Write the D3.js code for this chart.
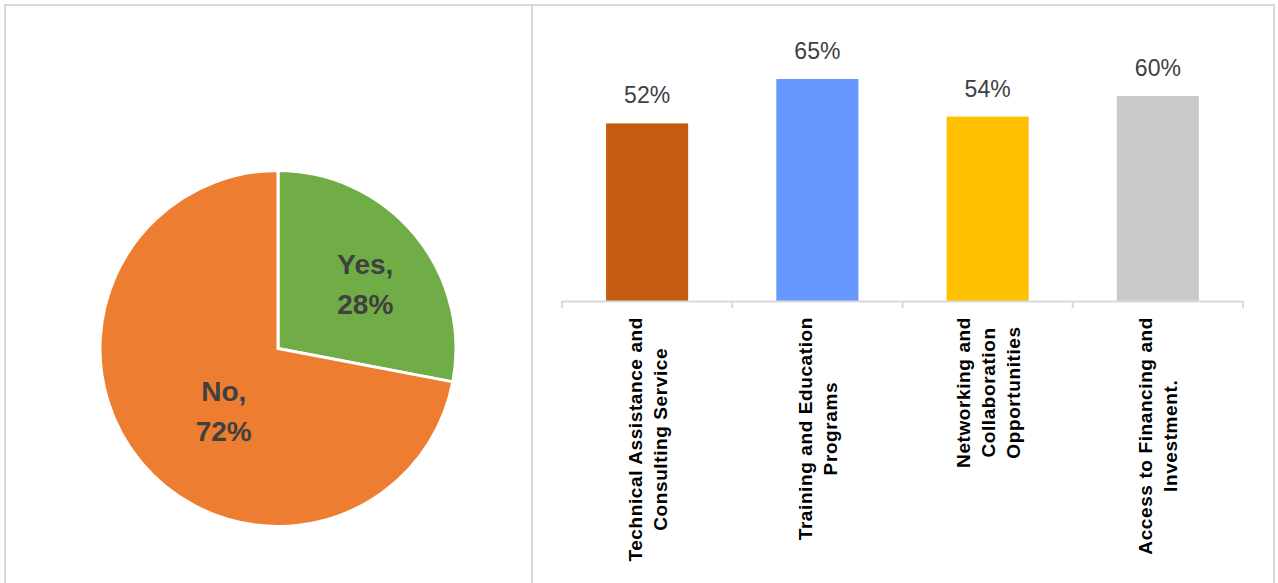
<!DOCTYPE html>
<html>
<head>
<meta charset="utf-8">
<script src="https://cdn.jsdelivr.net/npm/d3@7"></script>
<style>
  body { margin: 0; background: #fff; }
  svg { display: block; font-family: "Liberation Sans", Arial, sans-serif; }
</style>
</head>
<body>
<div id="chart"></div>
<script>
// pie data
const pieLabels = ['Yes', 'No'];
const pieValues = [28, 72];
const pieColors = ['#70AD47', '#ED7D31'];

// bar data
const barCategories = [
  ['Technical Assistance and', 'Consulting Service'],
  ['Training and Education', 'Programs'],
  ['Networking and', 'Collaboration', 'Opportunities'],
  ['Access to Financing and', 'Investment.']
];
const barValues = [52, 65, 54, 60];
const barColors = ['#C55A11', '#6699FF', '#FFC000', '#C9C9C9'];

const W = 1278, H = 583;
const textColor = '#404040';
const frameColor = '#D9D9D9';

const svg = d3.select('#chart')
  .append('svg')
  .attr('width', W)
  .attr('height', H);

// panel frames
svg.append('rect')
  .attr('x', 5).attr('y', 5)
  .attr('width', 527).attr('height', 600)
  .attr('fill', 'none').attr('stroke', frameColor).attr('stroke-width', 2);
svg.append('rect')
  .attr('x', 532).attr('y', 5)
  .attr('width', 742).attr('height', 600)
  .attr('fill', 'none').attr('stroke', frameColor).attr('stroke-width', 2);

// ---- pie ----
const R = 178;
const pieG = svg.append('g')
  .attr('transform', 'translate(278,348.5)');

const pie = d3.pie()
  .sort(null)
  .value(d => d);

const arc = d3.arc()
  .innerRadius(0)
  .outerRadius(R);

const slices = pie(pieValues);

pieG.selectAll('path')
  .data(slices)
  .enter()
  .append('path')
  .attr('d', arc)
  .attr('fill', (d, i) => pieColors[i])
  .attr('stroke', '#fff')
  .attr('stroke-width', 3)
  .attr('stroke-linejoin', 'miter');

// label spots, like excel's best fit
const labelArc = d3.arc().innerRadius(0).outerRadius(R * 1.2);
const labelNudge = [[5, 4], [28, -6]];

slices.forEach((s, i) => {
  const c = labelArc.centroid(s);
  const x = c[0] + labelNudge[i][0];
  const y = c[1] + labelNudge[i][1];
  const t = pieG.append('text')
    .attr('text-anchor', 'middle')
    .attr('fill', textColor)
    .style('font-size', '28px')
    .style('font-weight', 'bold');
  t.append('tspan').attr('x', x).attr('y', y - 10).text(pieLabels[i] + ',');
  t.append('tspan').attr('x', x).attr('y', y + 30).text(pieValues[i] + '%');
});

// ---- bars ----
const x = d3.scaleBand()
  .domain(d3.range(barValues.length))
  .range([562, 1243])
  .paddingInner(0.518)
  .paddingOuter(0.259);

const y = d3.scaleLinear()
  .domain([0, 65])
  .range([301, 79]);

const barG = svg.append('g');

barG.selectAll('rect')
  .data(barValues)
  .enter()
  .append('rect')
  .attr('x', (d, i) => x(i))
  .attr('y', d => y(d))
  .attr('width', x.bandwidth())
  .attr('height', d => y(0) - y(d))
  .attr('fill', (d, i) => barColors[i]);

barG.selectAll('text.val')
  .data(barValues)
  .enter()
  .append('text')
  .attr('class', 'val')
  .attr('x', (d, i) => x(i) + x.bandwidth() / 2)
  .attr('y', d => y(d) - 20)
  .attr('text-anchor', 'middle')
  .attr('fill', textColor)
  .style('font-size', '23px')
  .text(d => d + '%');

// axis line + ticks at the band edges
const step = x.step();
const x0 = 562;
barG.append('line')
  .attr('x1', x0).attr('x2', 1243)
  .attr('y1', y(0) + 0.5).attr('y2', y(0) + 0.5)
  .attr('stroke', frameColor).attr('stroke-width', 2);
barG.selectAll('line.tick')
  .data(d3.range(barValues.length + 1))
  .enter()
  .append('line')
  .attr('class', 'tick')
  .attr('x1', i => x0 + i * step).attr('x2', i => x0 + i * step)
  .attr('y1', y(0)).attr('y2', y(0) + 7)
  .attr('stroke', frameColor).attr('stroke-width', 2);

// rotated category labels, lines centred on each other
const lineH = 25;
const labelStyle = sel => sel
  .style('font-size', '19px')
  .style('font-weight', 'bold')
  .style('letter-spacing', '0.6px');

barCategories.forEach((lines, i) => {
  const cx = x(i) + x.bandwidth() / 2;
  const g = barG.append('g')
    .attr('transform', `translate(${cx},317) rotate(-90)`);
  const widths = [];
  const tmp = g.append('text').call(labelStyle);
  lines.forEach(l => {
    tmp.text(l);
    widths.push(tmp.node().getComputedTextLength());
  });
  tmp.remove();
  const maxW = d3.max(widths);
  const n = lines.length;
  lines.forEach((l, j) => {
    g.append('text')
      .attr('x', -maxW / 2)
      .attr('y', (j - (n - 1) / 2) * lineH + 7)
      .attr('text-anchor', 'middle')
      .attr('fill', '#000')
      .call(labelStyle)
      .text(l);
  });
});
</script>
</body>
</html>
